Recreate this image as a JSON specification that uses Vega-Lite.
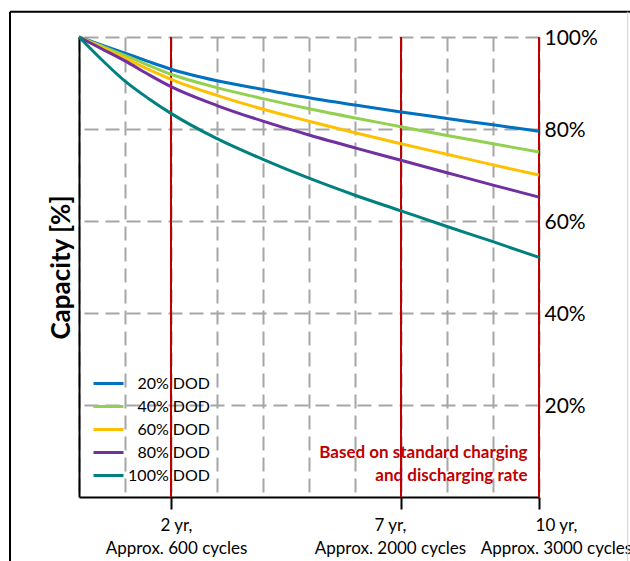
{
  "$schema": "https://vega.github.io/schema/vega-lite/v6.json",
  "width": 460,
  "height": 460,
  "autosize": {"type": "none"},
  "padding": {"left": 79, "top": 37, "right": 91, "bottom": 64},
  "background": "white",
  "config": {"view": {"stroke": null}, "font": "Lato", "axis": {"labelColor": "black", "titleColor": "black"}},
  "datasets": {
    "curves": [
      {"s": "20% DOD", "yr": 0, "cap": 100}, {"s": "20% DOD", "yr": 0.5, "cap": 98.2}, {"s": "20% DOD", "yr": 1, "cap": 96.5}, {"s": "20% DOD", "yr": 1.5, "cap": 94.7}, {"s": "20% DOD", "yr": 2, "cap": 93.0}, {"s": "20% DOD", "yr": 3, "cap": 90.5}, {"s": "20% DOD", "yr": 4, "cap": 88.6}, {"s": "20% DOD", "yr": 5, "cap": 86.8}, {"s": "20% DOD", "yr": 6, "cap": 85.2}, {"s": "20% DOD", "yr": 7, "cap": 83.7}, {"s": "20% DOD", "yr": 8, "cap": 82.3}, {"s": "20% DOD", "yr": 9, "cap": 80.9}, {"s": "20% DOD", "yr": 10, "cap": 79.5},
      {"s": "40% DOD", "yr": 0, "cap": 100}, {"s": "40% DOD", "yr": 0.5, "cap": 98.0}, {"s": "40% DOD", "yr": 1, "cap": 96.0}, {"s": "40% DOD", "yr": 1.5, "cap": 93.9}, {"s": "40% DOD", "yr": 2, "cap": 91.9}, {"s": "40% DOD", "yr": 3, "cap": 89.0}, {"s": "40% DOD", "yr": 4, "cap": 86.6}, {"s": "40% DOD", "yr": 5, "cap": 84.4}, {"s": "40% DOD", "yr": 6, "cap": 82.4}, {"s": "40% DOD", "yr": 7, "cap": 80.5}, {"s": "40% DOD", "yr": 8, "cap": 78.6}, {"s": "40% DOD", "yr": 9, "cap": 76.8}, {"s": "40% DOD", "yr": 10, "cap": 75.0},
      {"s": "60% DOD", "yr": 0, "cap": 100}, {"s": "60% DOD", "yr": 0.5, "cap": 97.7}, {"s": "60% DOD", "yr": 1, "cap": 95.4}, {"s": "60% DOD", "yr": 1.5, "cap": 93.0}, {"s": "60% DOD", "yr": 2, "cap": 90.8}, {"s": "60% DOD", "yr": 3, "cap": 87.3}, {"s": "60% DOD", "yr": 4, "cap": 84.3}, {"s": "60% DOD", "yr": 5, "cap": 81.7}, {"s": "60% DOD", "yr": 6, "cap": 79.2}, {"s": "60% DOD", "yr": 7, "cap": 76.8}, {"s": "60% DOD", "yr": 8, "cap": 74.5}, {"s": "60% DOD", "yr": 9, "cap": 72.2}, {"s": "60% DOD", "yr": 10, "cap": 70.0},
      {"s": "80% DOD", "yr": 0, "cap": 100}, {"s": "80% DOD", "yr": 0.5, "cap": 97.4}, {"s": "80% DOD", "yr": 1, "cap": 94.8}, {"s": "80% DOD", "yr": 1.5, "cap": 91.9}, {"s": "80% DOD", "yr": 2, "cap": 89.2}, {"s": "80% DOD", "yr": 3, "cap": 85.1}, {"s": "80% DOD", "yr": 4, "cap": 81.7}, {"s": "80% DOD", "yr": 5, "cap": 78.7}, {"s": "80% DOD", "yr": 6, "cap": 75.9}, {"s": "80% DOD", "yr": 7, "cap": 73.2}, {"s": "80% DOD", "yr": 8, "cap": 70.5}, {"s": "80% DOD", "yr": 9, "cap": 67.8}, {"s": "80% DOD", "yr": 10, "cap": 65.2},
      {"s": "100% DOD", "yr": 0, "cap": 100}, {"s": "100% DOD", "yr": 0.5, "cap": 95.0}, {"s": "100% DOD", "yr": 1, "cap": 90.4}, {"s": "100% DOD", "yr": 1.5, "cap": 86.7}, {"s": "100% DOD", "yr": 2, "cap": 83.4}, {"s": "100% DOD", "yr": 3, "cap": 77.9}, {"s": "100% DOD", "yr": 4, "cap": 73.4}, {"s": "100% DOD", "yr": 5, "cap": 69.3}, {"s": "100% DOD", "yr": 6, "cap": 65.6}, {"s": "100% DOD", "yr": 7, "cap": 62.2}, {"s": "100% DOD", "yr": 8, "cap": 58.8}, {"s": "100% DOD", "yr": 9, "cap": 55.5}, {"s": "100% DOD", "yr": 10, "cap": 52.1}
    ],
    "markers": [{"yr": 2}, {"yr": 7}, {"yr": 10}],
    "notes": [{"note": "Based on standard charging\nand discharging rate"}]
  },
  "layer": [
    {
      "data": {"values": [{}]},
      "mark": {"type": "rule", "color": "black", "strokeWidth": 2},
      "encoding": {
        "x": {"datum": -1.5, "type": "quantitative", "scale": {"domain": [0, 10], "nice": false, "zero": false}, "axis": null},
        "x2": {"datum": 14},
        "y": {"datum": 105.5, "type": "quantitative", "scale": {"domain": [0, 100], "nice": false, "zero": false}, "axis": null}
      }
    },
    {
      "data": {"values": [{}]},
      "mark": {"type": "rule", "color": "black", "strokeWidth": 2},
      "encoding": {
        "x": {"datum": -1.5, "type": "quantitative", "axis": null},
        "y": {"datum": 105.5, "type": "quantitative", "axis": null},
        "y2": {"datum": -30}
      }
    },
    {
      "data": {"values": [{}]},
      "mark": {"type": "rule", "color": "#D0D0D0", "strokeWidth": 1},
      "encoding": {
        "x": {"datum": 11.93, "type": "quantitative", "axis": null},
        "y": {"datum": 105.5, "type": "quantitative", "axis": null},
        "y2": {"datum": -30}
      }
    },
    {
      "data": {"name": "markers"},
      "mark": {"type": "rule", "color": "#C00000", "strokeWidth": 2},
      "encoding": {
        "x": {
          "field": "yr", "type": "quantitative",
          "axis": {
            "orient": "bottom", "title": null,
            "values": [0, 1, 2, 3, 4, 5, 6, 7, 8, 9, 10],
            "domainColor": "black", "domainWidth": 2,
            "grid": true, "gridDash": [14, 7], "gridColor": "#A6A6A6", "gridWidth": 2,
            "tickColor": {"condition": {"test": "datum.value == 2 || datum.value == 7 || datum.value == 10", "value": "black"}, "value": "transparent"},
            "tickSize": 12, "tickWidth": 2,
            "labelExpr": "datum.value == 2 ? ['2 yr,', 'Approx. 600 cycles'] : datum.value == 7 ? ['7 yr,', 'Approx. 2000 cycles'] : datum.value == 10 ? ['10 yr,', 'Approx. 3000 cycles'] : ''",
            "labelFontSize": 17, "labelLineHeight": 23.5, "labelPadding": 8, "labelBaseline": "top",
            "labelOffset": {"condition": [{"test": "datum.value == 2", "value": 5}, {"test": "datum.value == 7", "value": -11}, {"test": "datum.value == 10", "value": 17}], "value": 0},
            "labelOverlap": false, "labelFlush": false, "labelBound": false
          }
        },
        "y": {"datum": 0, "type": "quantitative",
          "axis": {
            "orient": "left", "domainColor": "black", "domainWidth": 2,
            "ticks": false, "labels": false, "grid": false,
            "title": "Capacity [%]", "titleFontSize": 26, "titleFontWeight": "bold", "titlePadding": 5
          }
        },
        "y2": {"datum": 100}
      }
    },
    {
      "data": {"name": "curves"},
      "mark": {"type": "line", "strokeWidth": 3, "interpolate": "monotone"},
      "encoding": {
        "x": {"field": "yr", "type": "quantitative", "axis": null},
        "y": {
          "field": "cap", "type": "quantitative",
          "axis": {
            "orient": "right", "title": null,
            "values": [20, 40, 60, 80, 100],
            "labelExpr": "datum.value + '%'",
            "labelFontSize": 21, "labelPadding": 5, "labelBaseline": "middle", "labelOffset": 1,
            "ticks": false, "domain": false,
            "grid": true, "gridDash": [14, 7], "gridColor": "#A6A6A6", "gridWidth": 2
          }
        },
        "color": {
          "field": "s", "type": "nominal",
          "scale": {"domain": ["20% DOD", "40% DOD", "60% DOD", "80% DOD", "100% DOD"], "range": ["#0070C0", "#92D050", "#FFC000", "#7030A0", "#00807F"]},
          "legend": {
            "orient": "none", "legendX": 13, "legendY": 335,
            "title": null, "symbolType": "stroke", "symbolSize": 900, "symbolStrokeWidth": 3,
            "labelFontSize": 16, "labelColor": "black", "labelAlign": "right", "labelOffset": 85,
            "clipHeight": 23, "rowPadding": 0
          }
        }
      }
    },
    {
      "data": {"name": "notes"},
      "mark": {"type": "text", "align": "right", "baseline": "middle", "fontWeight": "bold", "fontSize": 17, "color": "#C00000", "lineHeight": 23.5, "lineBreak": "\n"},
      "encoding": {
        "x": {"datum": 9.75, "type": "quantitative", "axis": null},
        "y": {"datum": 9.6, "type": "quantitative", "axis": null},
        "text": {"field": "note"}
      }
    }
  ],
  "resolve": {"axis": {"x": "independent", "y": "independent"}}
}
